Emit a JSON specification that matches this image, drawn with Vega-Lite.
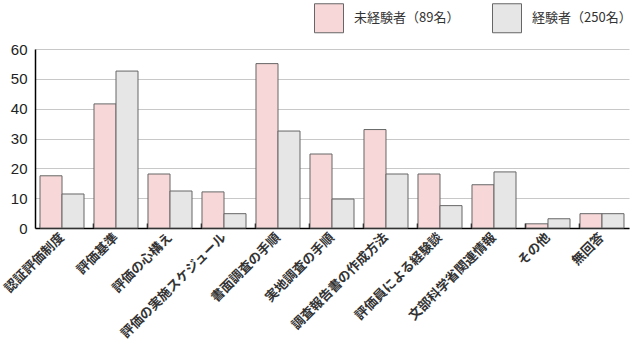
{
  "$schema": "https://vega.github.io/schema/vega-lite/v6.json",
  "width": 594,
  "height": 179,
  "autosize": "none",
  "padding": {"left": 35, "top": 49, "right": 1, "bottom": 123},
  "background": "white",
  "config": {"view": {"stroke": null}, "font": "Noto Sans CJK JP"},
  "data": {"values": [
    {"item": "認証評価制度", "group": "未経験者（89名）", "order": 1, "value": 17.5},
    {"item": "認証評価制度", "group": "経験者（250名）", "order": 2, "value": 11.4},
    {"item": "評価基準", "group": "未経験者（89名）", "order": 1, "value": 41.6},
    {"item": "評価基準", "group": "経験者（250名）", "order": 2, "value": 52.6},
    {"item": "評価の心構え", "group": "未経験者（89名）", "order": 1, "value": 18.1},
    {"item": "評価の心構え", "group": "経験者（250名）", "order": 2, "value": 12.4},
    {"item": "評価の実施スケジュール", "group": "未経験者（89名）", "order": 1, "value": 12.1},
    {"item": "評価の実施スケジュール", "group": "経験者（250名）", "order": 2, "value": 4.8},
    {"item": "書面調査の手順", "group": "未経験者（89名）", "order": 1, "value": 55.1},
    {"item": "書面調査の手順", "group": "経験者（250名）", "order": 2, "value": 32.5},
    {"item": "実地調査の手順", "group": "未経験者（89名）", "order": 1, "value": 24.8},
    {"item": "実地調査の手順", "group": "経験者（250名）", "order": 2, "value": 9.7},
    {"item": "調査報告書の作成方法", "group": "未経験者（89名）", "order": 1, "value": 33.0},
    {"item": "調査報告書の作成方法", "group": "経験者（250名）", "order": 2, "value": 18.1},
    {"item": "評価員による経験談", "group": "未経験者（89名）", "order": 1, "value": 18.1},
    {"item": "評価員による経験談", "group": "経験者（250名）", "order": 2, "value": 7.5},
    {"item": "文部科学省関連情報", "group": "未経験者（89名）", "order": 1, "value": 14.5},
    {"item": "文部科学省関連情報", "group": "経験者（250名）", "order": 2, "value": 18.8},
    {"item": "その他", "group": "未経験者（89名）", "order": 1, "value": 1.4},
    {"item": "その他", "group": "経験者（250名）", "order": 2, "value": 3.1},
    {"item": "無回答", "group": "未経験者（89名）", "order": 1, "value": 4.8},
    {"item": "無回答", "group": "経験者（250名）", "order": 2, "value": 4.8}
  ]},
  "mark": {"type": "bar", "stroke": "#666666", "strokeWidth": 1},
  "encoding": {
    "x": {
      "field": "item", "type": "nominal", "sort": null, "title": null,
      "scale": {"paddingInner": 0.185, "paddingOuter": 0.0926},
      "axis": {
        "labelAngle": -45, "labelAlign": "right", "labelBaseline": "middle",
        "labelFontSize": 13, "labelFontWeight": "bold", "labelColor": "#333333",
        "labelPadding": 12, "labelOverlap": false, "labelLimit": 300,
        "domainColor": "#000000", "domainWidth": 1.5,
        "ticks": true, "tickColor": "#000000", "tickSize": -5, "tickWidth": 1.5,
        "bandPosition": 0
      }
    },
    "xOffset": {"field": "group", "type": "nominal", "sort": ["未経験者（89名）", "経験者（250名）"], "scale": {"paddingInner": 0, "paddingOuter": 0}},
    "y": {
      "field": "value", "type": "quantitative", "title": null,
      "scale": {"domain": [0, 60], "nice": false},
      "axis": {
        "values": [0, 10, 20, 30, 40, 50, 60],
        "grid": true, "gridColor": "#c8c8c8", "gridWidth": 1,
        "ticks": false, "labelPadding": 8,
        "labelFont": "Liberation Sans", "labelFontSize": 15, "labelColor": "#222222",
        "domainColor": "#000000", "domainWidth": 1.5
      }
    },
    "color": {
      "field": "group", "type": "nominal", "sort": ["未経験者（89名）", "経験者（250名）"],
      "scale": {"domain": ["未経験者（89名）", "経験者（250名）"], "range": ["#f7d7d7", "#e6e6e6"]},
      "legend": {
        "title": null, "orient": "none", "direction": "horizontal",
        "legendX": 279, "legendY": -46,
        "symbolType": "square", "symbolSize": 841, "symbolStrokeColor": "#666666", "symbolStrokeWidth": 1,
        "labelFontSize": 13, "labelColor": "#333333", "labelOffset": 10,
        "columnPadding": 30
      }
    }
  }
}
